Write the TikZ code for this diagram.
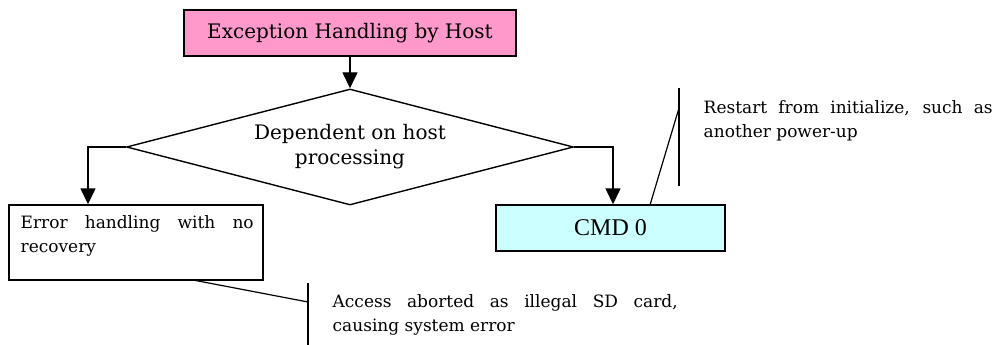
\documentclass[tikz,border=0pt]{standalone}
\usepackage{fontspec}
\setmainfont{DejaVu Serif}
\newfontfamily\cmdfont{Liberation Serif}
\usetikzlibrary{shapes.geometric,arrows.meta}
\definecolor{hostpink}{HTML}{FF99CC}
\definecolor{cmdcyan}{HTML}{CCFFFF}
\begin{document}
\begin{tikzpicture}[x=1pt,y=-1pt,
  line width=1.4pt,
  box/.style={draw, line width=1.4pt, inner sep=0pt},
  flow/.style={-{Triangle[width=15pt,length=16pt]}},
  lead/.style={line width=1.2pt},
  big/.style={font=\fontsize{20}{25}\selectfont},
  small/.style={font=\fontsize{17}{24}\selectfont},
  note/.style={small, anchor=north west, align=justify, inner sep=0pt}]
\useasboundingbox (0,0) rectangle (997,345);

% process boxes and the decision
\node[box, fill=hostpink, minimum width=332pt, minimum height=46pt, big] (host) at (350,33) {Exception Handling by Host};
\node[draw, diamond, aspect=3.85, line width=1.4pt, minimum width=447pt, minimum height=116pt, inner sep=0pt, align=center, big] (dec) at (350,147) {Dependent on host\\processing};
\node[box, minimum width=254pt, minimum height=75pt] (err) at (136,242.5) {};
\node[note, text width=233pt] (errtext) at (20,215) {Error handling with no\linebreak recovery};
\node[box, fill=cmdcyan, minimum width=229pt, minimum height=46pt, font=\cmdfont\fontsize{24}{26}\selectfont] (cmd) at (610.5,228) {CMD 0};

% flow arrows
\draw[flow] (host.south) -- (dec.north);
\draw[flow] (dec.west) -| (err.north -| 88,0);
\draw[flow] (dec.east) -| (cmd.north -| 613,0);

% callout for CMD 0
\coordinate (c1a) at (679,88);
\coordinate (c1b) at (679,186);
\coordinate (c1k) at (679,108);
\coordinate (c1f) at (650,205);
\draw[lead] (c1a) -- (c1b);
\draw[lead] (c1f) -- (c1k);
\node[note, text width=289pt] (note1) at (703,100) {Restart from initialize, such as\linebreak another power-up};

% callout for the error box
\coordinate (c2a) at (308,283);
\coordinate (c2b) at (308,345);
\coordinate (c2k) at (308,302);
\coordinate (c2f) at (193,280);
\draw[lead] (c2a) -- (c2b);
\draw[lead] (c2f) -- (c2k);
\node[note, text width=345pt] (note2) at (332,294) {Access aborted as illegal SD card,\linebreak causing system error};
\end{tikzpicture}
\end{document}
